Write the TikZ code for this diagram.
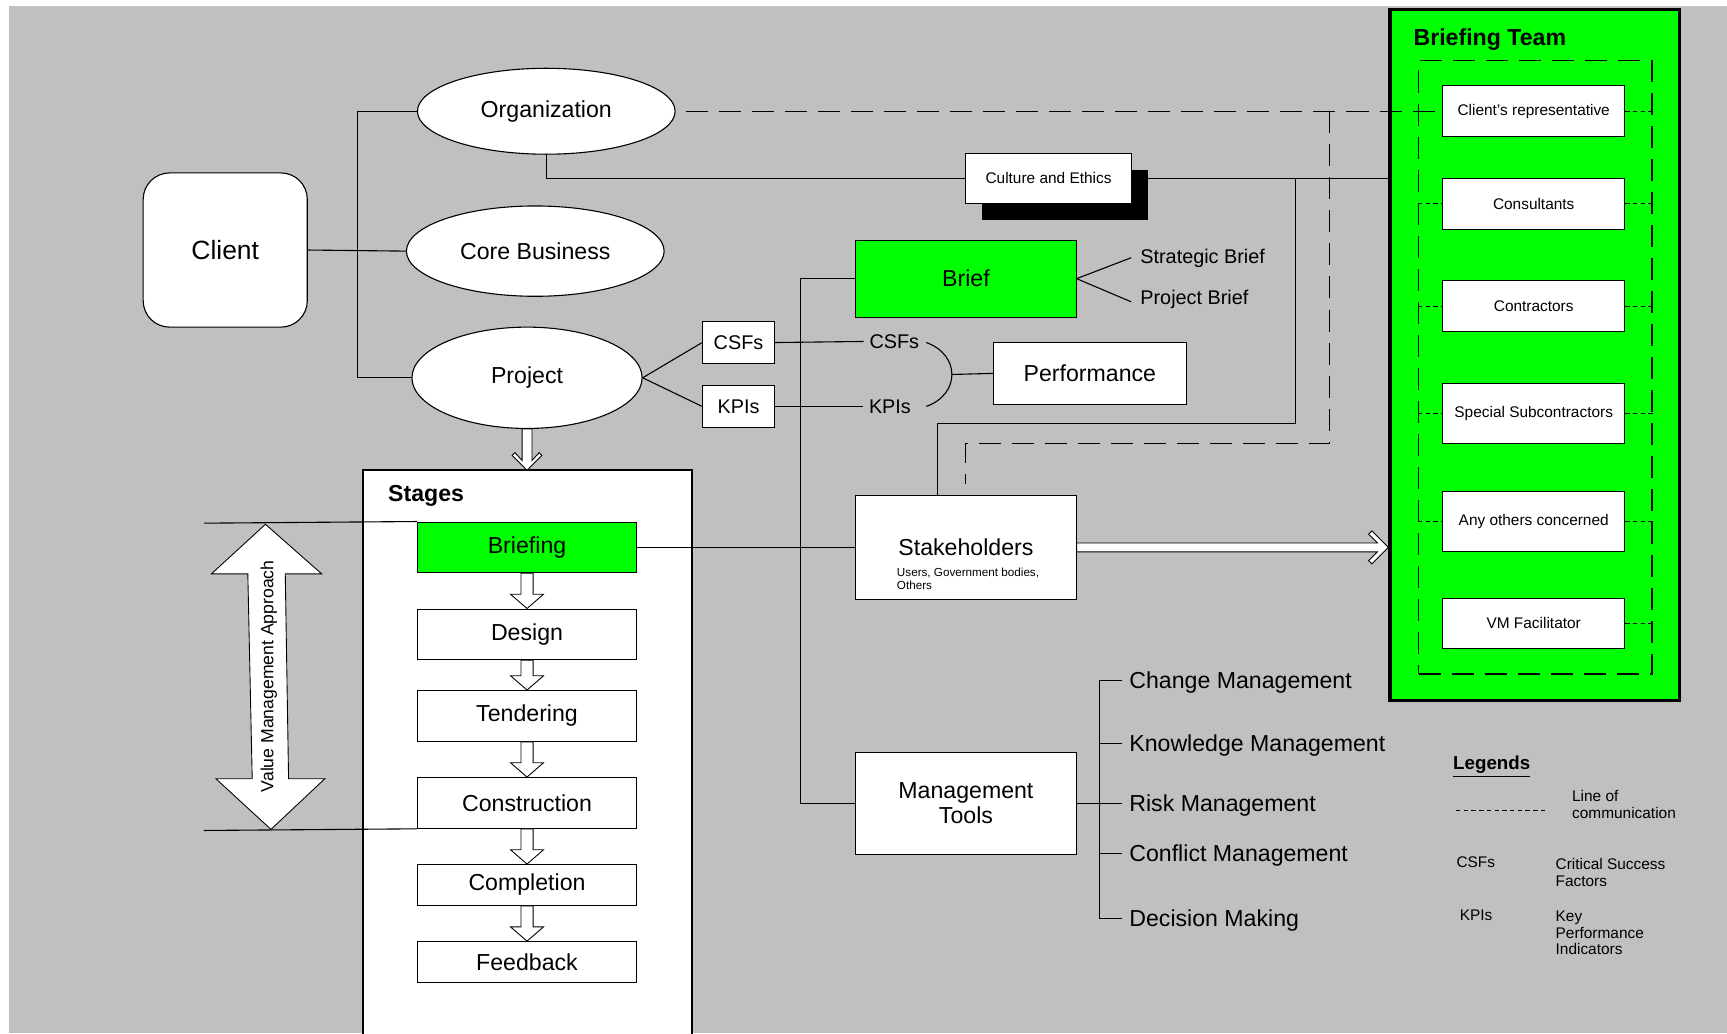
\documentclass[tikz,border=0pt]{standalone}
\usepackage{fontspec}
\setmainfont{Liberation Sans}
\usetikzlibrary{shapes.geometric,calc}
\definecolor{bg}{HTML}{C0C0C0}
\definecolor{vgreen}{HTML}{00FF00}
\newcommand\fsz[2]{\fontsize{#1}{#2}\selectfont}
\tikzset{
  sz/.style 2 args={minimum width=#1*0.5pt, minimum height=#2*0.5pt},
  box/.style={draw, fill=white, line width=0.5pt, inner sep=0pt, align=center},
  ell/.style={draw, fill=white, ellipse, line width=0.5pt, inner sep=0pt, font=\fsz{10.5}{12}},
  conn/.style={line width=0.5pt},
  comm/.style={line width=0.6pt, dash pattern=on 10pt off 5pt},
  shortdash/.style={line width=0.4pt, dash pattern=on 2pt off 1.5pt},
  harrow/.style={draw, fill=white, line width=0.4pt, line join=miter},
  lbl/.style={inner sep=0pt, anchor=west},
  big/.style={font=\fsz{10.5}{12}},
  small/.style={font=\fsz{7}{8}},
}
\begin{document}
\begin{tikzpicture}[x=0.5pt,y=-0.5pt]
\useasboundingbox (0,0) rectangle (1568,938);
\fill[bg] (8,5) rectangle (1568,938);

% ---------- Briefing team ----------
\node[draw, fill=vgreen, line width=1.4pt, sz={263}{627}, inner sep=0pt] (bteam) at (1393.5,322.5) {};
\node[lbl, font=\bfseries\fsz{10.5}{12}] (btt) at (1283,36) {Briefing Team};
\node[draw, comm, sz={212}{557}, inner sep=0pt] (bin) at (1394,333.5) {};
\node[box, sz={165}{46}, small] (cr) at (1392.5,101) {Client's representative};
\node[box, sz={165}{46}, small] (cons) at (1392.5,185) {Consultants};
\node[box, sz={165}{46}, small] (contr) at (1392.5,278) {Contractors};
\node[box, sz={165}{55}, small] (spec) at (1392.5,375.5) {Special Subcontractors};
\node[box, sz={165}{55}, small] (anyo) at (1392.5,473.5) {Any others concerned};
\node[box, sz={165}{46}, small] (vmf) at (1392.5,566) {VM Facilitator};

\draw[shortdash] (cr.east) -- (bin.east |- cr.east);
\foreach \m in {cons,contr,spec,anyo}{
  \draw[shortdash] (bin.west |- \m.west) -- (\m.west);
  \draw[shortdash] (\m.east) -- (bin.east |- \m.east);
}
\draw[shortdash] (vmf.east) -- (bin.east |- vmf.east);

% ---------- Stages container ----------
\filldraw[fill=white, line width=0.9pt] (330,940) -- (330,427) -- (628,427) -- (628,940);
\node[lbl, font=\bfseries\fsz{10.5}{12}] (stg) at (352,450) {Stages};

% ---------- left nodes ----------
\node[box, rounded corners=12pt, sz={149}{140}, font=\fsz{12}{14}] (client) at (204.5,227) {Client};
\node[ell, sz={234}{78}] (org) at (496,101) {Organization};
\node[ell, sz={234}{82}] (core) at (486,228) {Core Business};
\node[ell, sz={209}{92}] (proj) at (478.5,343) {Project};

% ---------- stages ----------
\node[box, fill=vgreen, sz={199}{46}, big] (sbrf) at (478.5,497) {Briefing};
\node[box, sz={199}{46}, big] (sdes) at (478.5,576) {Design};
\node[box, sz={199}{46}, big] (sten) at (478.5,650) {Tendering};
\node[box, sz={199}{46}, big] (scon) at (478.5,729) {Construction};
\node[box, sz={199}{37}, big] (scom) at (478.5,803.5) {Completion};
\node[box, sz={199}{37}, big] (sfb) at (478.5,873.5) {Feedback};

% ---------- middle nodes ----------
\node[fill=black, sz={150}{46}, inner sep=0pt] (cshadow) at (967,177) {};
\node[box, sz={150}{46}, small] (culture) at (952,162) {Culture and Ethics};
\node[box, fill=vgreen, sz={200}{70}, big] (brief) at (877,253) {Brief};
\node[lbl, font=\fsz{9}{11}] (sb) at (1035,235) {Strategic Brief};
\node[lbl, font=\fsz{9}{11}] (pb) at (1035,272) {Project Brief};
\node[box, sz={65}{38}, font=\fsz{9}{11}] (csfb) at (670.5,311) {CSFs};
\node[box, sz={65}{38}, font=\fsz{9}{11}] (kpib) at (670.5,369) {KPIs};
\node[inner sep=0pt, font=\fsz{9}{11}] (csft) at (812,310) {CSFs};
\node[inner sep=0pt, font=\fsz{9}{11}] (kpit) at (808,369) {KPIs};
\node[box, sz={175}{56}, big] (perf) at (989.5,339) {Performance};
\node[box, sz={200}{94}, big] (stake) at (877,497) {Stakeholders};
\node[inner sep=0pt, anchor=north west, align=left, font=\fsz{5.3}{6.2}] (stsub) at (814,515) {Users, Government bodies,\\Others};
\node[box, sz={200}{93}, font=\fsz{10.5}{11.5}] (mtools) at (877,729.5) {Management\\Tools};
\node[lbl, big] (chg) at (1025,620) {Change Management};
\node[lbl, big] (knw) at (1025,677) {Knowledge Management};
\node[lbl, big] (rsk) at (1025,731) {Risk Management};
\node[lbl, big] (cnf) at (1025,777) {Conflict Management};
\node[lbl, big] (dec) at (1025,836) {Decision Making};

% ---------- legends ----------
\node[lbl, font=\bfseries\fsz{8.5}{10}] (leg) at (1319,696) {\underline{Legends}};
\draw[shortdash] (1322,736) -- (1403,736);
\node[lbl, align=left, font=\fsz{7}{7.5}] (loc) at (1427,730.5) {Line of\\communication};
\node[lbl, small] (lcsf) at (1322,783) {CSFs};
\node[lbl, align=left, font=\fsz{7}{8}] (lcsfd) at (1412,792) {Critical Success\\Factors};
\node[lbl, small] (lkpi) at (1325,831) {KPIs};
\node[lbl, align=left, font=\fsz{7}{7.5}] (lkpid) at (1412,847) {Key\\Performance\\Indicators};

% ---------- connectors ----------
\draw[conn] (org.west) -- ++(-54,0) |- (proj.west);
\draw[conn] (client.east) -- (core.west);
\draw[conn] (org.south) |- (culture.west);
\draw[conn] (cshadow.east |- culture.west) -- (bteam.west |- culture.west);
\coordinate (j1) at (1176,162);
\draw[conn] (j1) |- ($(stake.north west)+(75,-65)$) -- ($(stake.north west)+(75,0)$);
\draw[comm] ($(org.east)+(9,0)$) -- (cr.west);
\coordinate (j2) at (1207,101);
\draw[comm] (j2) |- ($(stake.north west)+(100,-47)$) -- ($(stake.north west)+(100,-10)$);

\draw[conn] (brief.east) -- ($(sb.west)+(-8,-1)$);
\draw[conn] (brief.east) -- ($(pb.west)+(-8,2)$);
\draw[conn] (proj.east) -- (csfb.west);
\draw[conn] (proj.east) -- (kpib.west);
\draw[conn] (csfb.east) -- ($(csft.west)+(-5,0)$);
\draw[conn] (kpib.east) -- ($(kpit.west)+(-5,0)$);
\coordinate (b1) at (841,311);
\coordinate (b2) at (841,369);
\coordinate (bm) at (864,340);
\draw[conn] (b1) .. controls (872,322) and (872,358) .. (b2);
\draw[conn] (bm) -- (perf.west);
\draw[conn] (brief.west) -- ++(-50,0) |- (mtools.west);
\draw[conn] (sbrf.east) -- (stake.west);

\draw[conn] (mtools.east) -- ($(rsk.west)+(-6,-1.5)$);
\draw[conn] ($(chg.west)+(-6,-2)$) -- ++(-21,0) -- ($(dec.west)+(-27,-2)$) -- ($(dec.west)+(-6,-2)$);
\draw[conn] ($(knw.west)+(-27,-2)$) -- ($(knw.west)+(-6,-2)$);
\draw[conn] ($(cnf.west)+(-27,-2)$) -- ($(cnf.west)+(-6,-2)$);

% hollow arrow stakeholders -> briefing team
\coordinate (t1) at (bteam.west |- stake.east);
\draw[harrow] ($(stake.east)+(0,-4)$) -- ($(t1)+(-10,-4)$) -- ($(t1)+(-18,-12)$) -- ($(t1)+(-15,-15)$) -- (t1)
  -- ($(t1)+(-15,15)$) -- ($(t1)+(-18,12)$) -- ($(t1)+(-10,4)$) -- ($(stake.east)+(0,4)$) -- cycle;

% hollow arrow project -> stages
\coordinate (t2) at (478.5,427);
\draw[harrow] ($(proj.south)+(-4.5,0)$) -- ($(t2)+(-4.5,-9)$) -- ($(t2)+(-11,-16)$) -- ($(t2)+(-13.5,-13.5)$) -- (t2)
  -- ($(t2)+(13.5,-13.5)$) -- ($(t2)+(11,-16)$) -- ($(t2)+(4.5,-9)$) -- ($(proj.south)+(4.5,0)$) -- cycle;

% block arrows between stages
\foreach \a/\b in {sbrf/sdes, sdes/sten, sten/scon, scon/scom, scom/sfb}{
  \draw[harrow] ($(\a.south)+(-5.5,0)$) -- ($(\b.north)+(-5.5,-13)$) -- ($(\b.north)+(-15,-13)$) -- (\b.north)
    -- ($(\b.north)+(15,-13)$) -- ($(\b.north)+(5.5,-13)$) -- ($(\a.south)+(5.5,0)$) -- cycle;
}

% value management approach
\draw[conn] (185,475) -- (sbrf.north west);
\draw[conn] (185,754) -- (scon.south west);
\draw[harrow] (241,476) -- (292,521) -- (259,521) -- (262,707) -- (295,707) -- (246,753) -- (196,707) -- (229,707) -- (225,521) -- (192,521) -- cycle;
\node[rotate=90, font=\fsz{8}{10}, inner sep=0pt] (vma) at (244,614) {Value Management Approach};
\end{tikzpicture}
\end{document}
